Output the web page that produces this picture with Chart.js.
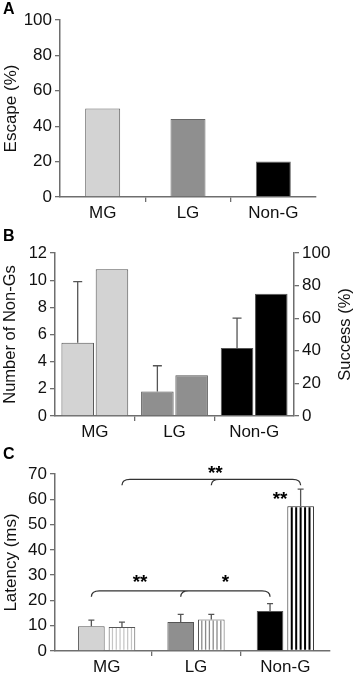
<!DOCTYPE html>
<html><head><meta charset="utf-8">
<script src="https://cdn.jsdelivr.net/npm/chart.js@4/dist/chart.umd.min.js"></script>
<style>
html,body{margin:0;padding:0;background:#fff;}
#wrap{position:relative;width:355px;height:673px;overflow:hidden;background:#fff;}
canvas{position:absolute;left:0;}
.lbl{position:absolute;left:3px;font:bold 16px "Liberation Sans",Arial,sans-serif;color:#000;line-height:16px;}
</style></head><body>
<div id="wrap">
<canvas id="cA" width="355" height="222" style="top:0"></canvas>
<canvas id="cB" width="355" height="218" style="top:222px"></canvas>
<canvas id="cC" width="355" height="233" style="top:440px"></canvas>
<div class="lbl" style="top:1px">A</div>
<div class="lbl" style="top:228px">B</div>
<div class="lbl" style="top:446px">C</div>
</div>
<script>
// ---- data ----
const categories = ['MG', 'LG', 'Non-G'];
const escapePct = [50, 44, 20];
const nonGsCount = [5.4, 1.8, 5.0];
const nonGsCountSD = [4.5, 1.9, 2.2];
const successPct = [90, 25, 75];
const latencySolid = [9.8, 11.5, 15.8];
const latencySolidSD = [2.4, 3.0, 2.9];
const latencyStriped = [9.5, 12.5, 57.2];
const latencyStripedSD = [1.9, 2.0, 6.8];
const sigLowerBracket = ['**', '*'];   // MG vs LG, LG vs Non-G (solid bars)
const sigUpperBracket = ['**'];        // striped bars
const sigNonG = '**';                  // Non-G solid vs striped

// ---- styling ----
const FONT = '"Liberation Sans", Arial, Helvetica, sans-serif';
const fills = ['#d3d3d3', '#8f8f8f', '#000000'];
const stripeColors = ['#c4c4c4', '#8a8a8a', '#000000'];
const AX = '#6e6e6e';
const TXT = '#111';

Chart.defaults.font.family = FONT;
Chart.defaults.color = TXT;

const errorBars = {
  id: 'errorBars',
  afterDatasetsDraw(chart) {
    const ctx = chart.ctx;
    chart.data.datasets.forEach((ds, di) => {
      if (!ds.errors) return;
      const meta = chart.getDatasetMeta(di);
      const ys = chart.scales[meta.yAxisID];
      meta.data.forEach((bar, i) => {
        const top = ys.getPixelForValue(ds.data[i] + ds.errors[i]);
        const cap = ds.errCap || 3;
        ctx.save();
        ctx.strokeStyle = '#555';
        ctx.lineWidth = 1.3;
        ctx.beginPath();
        ctx.moveTo(bar.x, bar.y);
        ctx.lineTo(bar.x, top);
        ctx.moveTo(bar.x - cap, top);
        ctx.lineTo(bar.x + cap, top);
        ctx.stroke();
        ctx.restore();
      });
    });
  }
};

const stripes = {
  id: 'stripes',
  afterDatasetsDraw(chart) {
    const ctx = chart.ctx;
    chart.data.datasets.forEach((ds, di) => {
      if (!ds.stripeColors) return;
      const meta = chart.getDatasetMeta(di);
      meta.data.forEach((bar, i) => {
        const n = ds.stripeCounts[i];
        const l = bar.x - bar.width / 2;
        ctx.save();
        ctx.strokeStyle = ds.stripeColors[i];
        ctx.lineWidth = ds.stripeWidths[i];
        ctx.beginPath();
        for (let k = 1; k <= n; k++) {
          const sx = l + bar.width * k / (n + 1);
          ctx.moveTo(sx, bar.y + 1);
          ctx.lineTo(sx, bar.base - 0.5);
        }
        ctx.stroke();
        ctx.restore();
      });
    });
  }
};

function yAxis(min, max, step, title, width, fs, extra) {
  return Object.assign({
    min, max,
    ticks: { stepSize: step, font: { size: fs }, color: TXT, padding: 3 },
    grid: { drawOnChartArea: false, tickLength: 5, color: AX, lineWidth: 1.3 },
    border: { color: AX, width: 1.5 },
    title: title ? { display: true, text: title, font: { size: fs }, color: TXT, padding: { top: 1, bottom: 0 } } : { display: false },
    afterFit(s) { s.width = width; }
  }, extra || {});
}

function xAxis(height, fs) {
  return {
    offset: true,
    ticks: { font: { size: fs }, color: TXT, padding: 1, maxRotation: 0 },
    grid: {
      offset: true, drawOnChartArea: false, tickLength: 5, lineWidth: 1.3,
      color: (c) => (c.index > 0 && c.index < categories.length) ? AX : 'rgba(0,0,0,0)'
    },
    border: { color: AX, width: 1.5 },
    afterFit(s) { s.height = height; }
  };
}

const baseOpts = {
  responsive: false,
  animation: false,
  plugins: { legend: { display: false }, tooltip: { enabled: false } }
};

// ---- Panel A ----
new Chart(document.getElementById('cA'), {
  type: 'bar',
  data: {
    labels: categories,
    datasets: [{
      data: escapePct,
      backgroundColor: fills,
      borderColor: '#666',
      borderWidth: 1,
      barPercentage: 0.41,
      categoryPercentage: 1
    }]
  },
  options: Object.assign({}, baseOpts, {
    layout: { padding: { top: 20, right: 39, left: 0, bottom: 0 } },
    scales: {
      x: xAxis(25, 17),
      y: yAxis(0, 100, 20, 'Escape (%)', 60, 17)
    }
  })
});

// ---- Panel B ----
const rightTitle = {
  id: 'rightTitle',
  afterDraw(chart) {
    const ctx = chart.ctx;
    const a = chart.chartArea;
    ctx.save();
    ctx.translate(345, (a.top + a.bottom) / 2);
    ctx.rotate(-Math.PI / 2);
    ctx.font = '16.5px ' + FONT;
    ctx.fillStyle = TXT;
    ctx.textAlign = 'center';
    ctx.textBaseline = 'middle';
    ctx.fillText('Success (%)', 0, 0);
    ctx.restore();
  }
};

new Chart(document.getElementById('cB'), {
  type: 'bar',
  data: {
    labels: categories,
    datasets: [{
      data: nonGsCount,
      errors: nonGsCountSD,
      errCap: 4.5,
      yAxisID: 'y',
      backgroundColor: fills,
      borderColor: '#555',
      borderWidth: 1,
      barPercentage: 0.95,
      categoryPercentage: 0.86
    }, {
      data: successPct,
      yAxisID: 'y1',
      backgroundColor: fills,
      borderColor: '#555',
      borderWidth: 1,
      barPercentage: 0.95,
      categoryPercentage: 0.86
    }]
  },
  options: Object.assign({}, baseOpts, {
    layout: { padding: { top: 31, right: 0, left: 0, bottom: 0 } },
    scales: {
      x: xAxis(24, 17),
      y: yAxis(0, 12, 2, 'Number of Non-Gs', 55, 16.5),
      y1: yAxis(0, 100, 20, null, 61, 17, { position: 'right' })
    }
  }),
  plugins: [errorBars, rightTitle]
});

// ---- Panel C ----
const shiftX = {
  id: 'shiftX',
  afterLayout(chart) {
    const x = chart.scales.x;
    x._startPixel = x.left + 7;
    x._length = x._endPixel - x._startPixel;
  }
};

const significance = {
  id: 'significance',
  afterDraw(chart) {
    const ctx = chart.ctx;
    const y = chart.scales.y;
    const solid = chart.getDatasetMeta(0).data.map(b => b.x);
    const striped = chart.getDatasetMeta(1).data.map(b => b.x);
    const r = 8;
    function bracket(xs, level, drop) {
      const yl = y.getPixelForValue(level);
      const ye = yl + drop;
      ctx.beginPath();
      ctx.moveTo(xs[0], ye);
      ctx.quadraticCurveTo(xs[0], yl, xs[0] + r, yl);
      ctx.lineTo(xs[2] - r, yl);
      ctx.quadraticCurveTo(xs[2], yl, xs[2], ye);
      ctx.moveTo(xs[1], ye);
      ctx.quadraticCurveTo(xs[1], yl, xs[1] + r, yl);
      ctx.stroke();
    }
    function star(txt, x, level) {
      ctx.fillText(txt, x, y.getPixelForValue(level) + 11);
    }
    ctx.save();
    ctx.strokeStyle = '#333';
    ctx.lineWidth = 1.3;
    bracket(solid, 23.8, 6);
    bracket(striped, 67.9, 6);
    ctx.fillStyle = '#000';
    ctx.font = 'bold 19px ' + FONT;
    ctx.textAlign = 'center';
    ctx.textBaseline = 'alphabetic';
    star(sigLowerBracket[0], (solid[0] + solid[1]) / 2 + 4, 29.2);
    star(sigLowerBracket[1], (solid[1] + solid[2]) / 2, 29.2);
    star(sigUpperBracket[0], (striped[0] + striped[2]) / 2 + 4, 72.4);
    star(sigNonG, solid[2] + 10, 62);
    ctx.restore();
  }
};

new Chart(document.getElementById('cC'), {
  type: 'bar',
  data: {
    labels: categories,
    datasets: [{
      data: latencySolid,
      errors: latencySolidSD,
      errCap: 3,
      backgroundColor: fills,
      borderColor: '#555',
      borderWidth: 1,
      barPercentage: 0.87,
      categoryPercentage: 0.685
    }, {
      data: latencyStriped,
      errors: latencyStripedSD,
      errCap: 3,
      backgroundColor: '#ffffff',
      borderColor: ['#555', '#555', '#222'],
      borderWidth: 1,
      stripeColors: stripeColors,
      stripeCounts: [6, 6, 5],
      stripeWidths: [1.2, 1.3, 2],
      barPercentage: 0.87,
      categoryPercentage: 0.685
    }]
  },
  options: Object.assign({}, baseOpts, {
    layout: { padding: { top: 34, right: 25, left: 0, bottom: 0 } },
    scales: {
      x: xAxis(22, 17),
      y: yAxis(0, 70, 10, 'Latency (ms)', 55, 17)
    }
  }),
  plugins: [shiftX, stripes, errorBars, significance]
});
</script>
</body></html>
